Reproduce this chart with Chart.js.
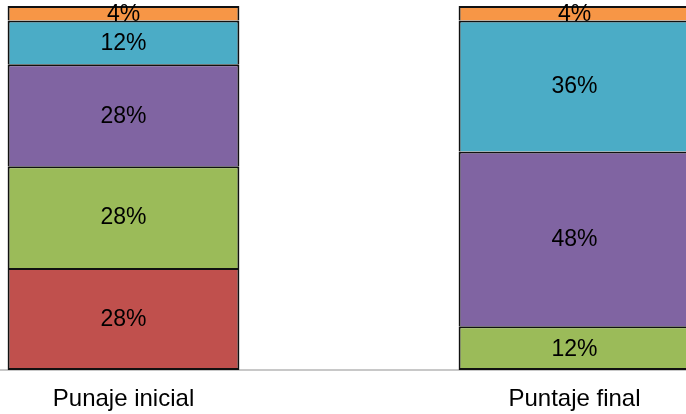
<!DOCTYPE html>
<html>
<head>
<meta charset="utf-8">
<script src="https://cdn.jsdelivr.net/npm/chart.js@4/dist/chart.umd.min.js"></script>
<style>
  html, body { margin: 0; padding: 0; background: #fff; overflow: hidden; }
  body { width: 686px; height: 414px; position: relative; }
  #wrap { position: absolute; left: -102px; top: 0; width: 902px; height: 414px; }
</style>
</head>
<body>
<div id="wrap"><canvas id="chart"></canvas></div>
<script>
const categories = ["Punaje inicial", "Puntaje final"];
const seriesRed = [28, 0];
const seriesGreen = [28, 12];
const seriesPurple = [28, 48];
const seriesBlue = [12, 36];
const seriesOrange = [4, 4];

const colors = ["#C0504D", "#9BBB59", "#8064A2", "#4BACC6", "#F79646"];
const allSeries = [seriesRed, seriesGreen, seriesPurple, seriesBlue, seriesOrange];

// 2px lines everywhere; a shared edge is drawn only by the lower segment
function edgeWidths(i, j) {
  const below = allSeries.slice(0, i).some(s => s[j]);
  return { left: 2, right: 2, bottom: below ? 0 : 2, top: 2 };
}

// draws the percentage in the middle of every segment
const segmentLabels = {
  id: "segmentLabels",
  afterDatasetsDraw(chart) {
    const ctx = chart.ctx;
    ctx.save();
    ctx.font = "23px 'Liberation Sans', Arial, sans-serif";
    ctx.fillStyle = "#000";
    ctx.textAlign = "center";
    ctx.textBaseline = "middle";
    chart.data.datasets.forEach((ds, i) => {
      const meta = chart.getDatasetMeta(i);
      meta.data.forEach((bar, j) => {
        const v = ds.data[j];
        if (!v) return;
        ctx.fillText(v + "%", bar.x, (bar.y + bar.base) / 2 + 1);
      });
    });
    ctx.restore();
  }
};

new Chart(document.getElementById("chart"), {
  type: "bar",
  data: {
    labels: categories,
    datasets: allSeries.map((s, i) => ({
      data: s.map(v => v === 0 ? null : v),
      backgroundColor: colors[i],
      borderColor: "#111",
      borderWidth: c => edgeWidths(c.datasetIndex, c.dataIndex),
      borderSkipped: false,
      inflateAmount: 0,
      barPercentage: 1,
      categoryPercentage: 0.514
    }))
  },
  options: {
    responsive: true,
    maintainAspectRatio: false,
    animation: false,
    layout: { padding: { top: 6, bottom: 0, left: 0, right: 0 } },
    plugins: { legend: { display: false }, tooltip: { enabled: false } },
    scales: {
      x: {
        stacked: true,
        grid: { display: false },
        border: { display: true, color: "#c8c8c8", width: 2 },
        ticks: {
          color: "#000",
          padding: 7,
          font: { family: "'Liberation Sans', Arial, sans-serif", size: 24 }
        },
        afterFit: scale => { scale.height = 44; }
      },
      y: {
        stacked: true,
        display: false,
        min: 0,
        max: 100
      }
    }
  },
  plugins: [segmentLabels]
});
</script>
</body>
</html>
